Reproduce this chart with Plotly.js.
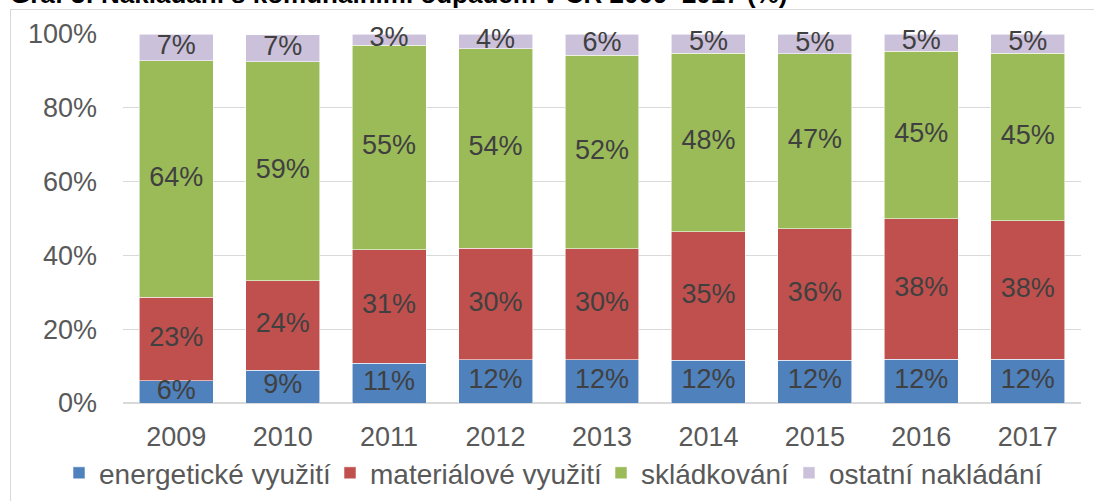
<!DOCTYPE html>
<html>
<head>
<meta charset="utf-8">
<script src="https://cdn.plot.ly/plotly-3.0.1.min.js"></script>
<style>
  html, body { margin: 0; padding: 0; background: #ffffff; }
  #wrap { position: relative; width: 1094px; height: 501px; overflow: hidden; }
  #frame { position: absolute; left: 10px; top: 9px; width: 1100px; height: 520px;
           border-left: 1px solid #d9d9d9; border-top: 1px solid #d9d9d9; }
  #chart { position: absolute; left: 0; top: 0; width: 1094px; height: 501px; }
</style>
</head>
<body>
<div id="wrap">
  <div id="frame"></div>
  <div id="chart"></div>
</div>
<script>
const years = ["2009", "2010", "2011", "2012", "2013", "2014", "2015", "2016", "2017"];
const seriesNames = ["energetické využití", "materiálové využití", "skládkování", "ostatní nakládání"];
const energeticke = [6.0, 8.9, 10.8, 11.7, 11.7, 11.6, 11.6, 11.8, 11.8];
const materialove = [22.6, 24.2, 30.8, 30.3, 30.1, 34.8, 35.6, 38.1, 37.6];
const skladkovani = [64.2, 59.4, 55.4, 54.0, 52.4, 48.4, 47.4, 45.4, 45.4];
const ostatni = [7.2, 7.3, 3.0, 4.0, 5.8, 5.2, 5.3, 4.7, 5.2];
const yTicks = [0, 20, 40, 60, 80, 100];
const yTickText = ["0%", "20%", "40%", "60%", "80%", "100%"];
const titleText = "Graf 3: Nakládání s komunálními odpadem v ČR 2009–2017 (%)";

const colors = ["#4f81bd", "#c0504d", "#9bbb59", "#ccc1da"];
const values = [energeticke, materialove, skladkovani, ostatni];
const FONT = "'Liberation Sans', Arial, sans-serif";
const legendIds = ["legend", "legend2", "legend3", "legend4"];
const legendLeft = [59, 330, 601, 789]; // pixel left edge of each legend entry box

const barTraces = values.map((v, i) => ({
  type: "bar",
  name: seriesNames[i],
  legend: legendIds[i],
  x: years,
  y: v,
  marker: { color: colors[i], line: { color: "rgba(255,255,255,0.7)", width: 0.8 } },
  hoverinfo: "skip"
}));

// data labels centred in each stacked segment
const base = years.map(() => 0);
const labelTraces = values.map((v) => {
  const mids = v.map((val, j) => base[j] + val / 2);
  v.forEach((val, j) => { base[j] += val; });
  return {
    type: "scatter",
    mode: "text",
    x: years,
    y: mids,
    text: v.map(val => Math.round(val) + "%"),
    textposition: "middle center",
    textfont: { family: FONT, size: 27, color: "#404040" },
    cliponaxis: false,
    showlegend: false,
    hoverinfo: "skip"
  };
});

const layout = {
  width: 1094,
  height: 501,
  barmode: "stack",
  bargap: 0.305,
  paper_bgcolor: "rgba(0,0,0,0)",
  plot_bgcolor: "rgba(0,0,0,0)",
  margin: { l: 123, r: 13, t: 34, b: 98, autoexpand: false },
  font: { family: FONT, size: 27, color: "#595959" },
  showlegend: true,
  xaxis: {
    type: "category",
    showgrid: false,
    showline: false,
    ticks: "",
    tickfont: { family: FONT, size: 27, color: "#595959" },
    ticklabelstandoff: 15
  },
  yaxis: {
    range: [0, 100],
    tickvals: yTicks,
    ticktext: yTickText,
    showgrid: true,
    gridcolor: "#d9d9d9",
    gridwidth: 1,
    zeroline: true,
    zerolinecolor: "#d9d9d9",
    zerolinewidth: 2,
    showline: false,
    ticks: "",
    tickfont: { family: FONT, size: 27, color: "#595959" },
    ticklabelstandoff: 25
  },
  annotations: [{
    text: "<b>" + titleText + "</b>",
    xref: "paper", yref: "paper",
    x: -0.12, xanchor: "left",
    y: 1.062, yanchor: "bottom",
    showarrow: false,
    font: { family: FONT, size: 26, color: "#000000" }
  }]
};

legendIds.forEach((id, i) => {
  layout[id] = {
    orientation: "h",
    xref: "container",
    x: legendLeft[i] / 1094, xanchor: "left",
    y: -0.19, yanchor: "middle",
    bgcolor: "rgba(0,0,0,0)",
    font: { family: FONT, size: 28, color: "#595959" },
    itemclick: false
  };
});

Plotly.newPlot("chart", barTraces.concat(labelTraces), layout, { staticPlot: true, displayModeBar: false });
</script>
</body>
</html>
